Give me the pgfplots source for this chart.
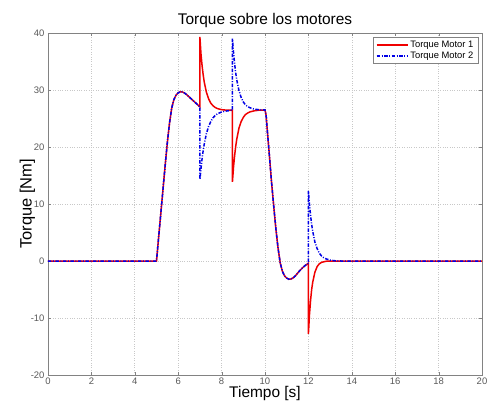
\documentclass[border=0pt]{standalone}
\usepackage{pgfplots}
\pgfplotsset{compat=1.18}
\usepackage{fontspec}
\setmainfont{Liberation Sans}
\definecolor{gridgray}{RGB}{200,200,200}
\definecolor{axgray}{RGB}{130,130,130}
\definecolor{mred}{RGB}{240,0,0}
\definecolor{mblue}{RGB}{0,0,230}
\begin{document}
\begin{tikzpicture}
\begin{axis}[
  scale only axis,
  width=434bp, height=342bp,
  xmin=0, xmax=20, ymin=-20, ymax=40,
  xtick={0,2,...,20}, ytick={-20,-10,...,40},
  grid=major,
  major grid style={gridgray, dotted, line width=0.6bp},
  axis line style={axgray, line width=0.6bp},
  tick style={axgray},
  tick align=inside,
  major tick length=3bp,
  /pgf/number format/assume math mode=true,
  tick label style={font=\fontsize{9.5}{10}\selectfont, text=black!65},
  xticklabel style={yshift=1bp},
  title={Torque sobre los motores},
  title style={font=\fontsize{15.5}{17}\selectfont, yshift=-4bp},
  xlabel={Tiempo [s]},
  xlabel style={font=\fontsize{15.5}{17}\selectfont, yshift=5bp},
  ylabel={Torque [Nm]},
  ylabel style={font=\fontsize{16.5}{18}\selectfont, yshift=-11bp},
  legend style={at={(axis description cs:0.991,0.988)}, anchor=north east,
    font=\fontsize{9.4}{10}\selectfont, draw=axgray, line width=0.5bp,
    inner xsep=2.5bp, inner ysep=1.5bp, row sep=-1bp, cells={anchor=west}},
  legend image code/.code={\draw[#1] (0bp,0bp) -- (31bp,0bp);},
]
\addplot[mred, line width=1.5bp] coordinates {
(0,0) (5,0) (5.1,4.2) (5.2,8.4) (5.3,12.6) (5.4,16.8) (5.5,20.8) (5.6,24.2) (5.7,26.8) (5.8,28.3) (5.9,29.1) (6.0,29.5) (6.1,29.7) (6.2,29.65) (6.3,29.45) (6.4,29.15) (6.5,28.8) (6.6,28.45) (6.7,28.1) (6.8,27.75) (6.9,27.4) (7.0,27.05)
(7.0,39.3) (7.05,36.3) (7.1,34.3) (7.15,32.7) (7.2,31.4) (7.3,29.6) (7.4,28.45) (7.5,27.7) (7.6,27.25) (7.7,26.95) (7.8,26.75) (8.0,26.55) (8.25,26.45) (8.5,26.45)
(8.5,13.9) (8.55,16.5) (8.6,18.5) (8.65,20.1) (8.7,21.4) (8.8,23.3) (8.9,24.45) (9.0,25.2) (9.1,25.7) (9.2,25.95) (9.3,26.15) (9.5,26.35) (9.7,26.45) (10.0,26.5)
(10.05,25.6) (10.1,23.2) (10.2,18.6) (10.3,13.9) (10.4,9.7) (10.5,5.7) (10.6,2.3) (10.7,-0.3) (10.8,-1.8) (10.9,-2.6) (11.0,-3.0) (11.1,-3.2) (11.2,-3.15) (11.3,-2.95) (11.4,-2.6) (11.5,-2.15) (11.6,-1.7) (11.7,-1.3) (11.8,-0.95) (11.9,-0.65) (12.0,-0.4)
(12.0,-12.8) (12.05,-9.4) (12.1,-6.9) (12.15,-5.0) (12.2,-3.7) (12.3,-1.95) (12.4,-1.0) (12.5,-0.5) (12.6,-0.25) (12.8,-0.05) (13.0,0) (20,0)
};
\addlegendentry{Torque Motor 1}
\addplot[mblue, line width=1.5bp, dash pattern=on 3.5bp off 1.5bp on 1bp off 1.5bp] coordinates {
(0,0) (5,0) (5.1,4.2) (5.2,8.4) (5.3,12.6) (5.4,16.8) (5.5,20.8) (5.6,24.2) (5.7,26.8) (5.8,28.3) (5.9,29.1) (6.0,29.5) (6.1,29.7) (6.2,29.65) (6.3,29.45) (6.4,29.15) (6.5,28.8) (6.6,28.45) (6.7,28.1) (6.8,27.75) (6.9,27.4) (7.0,27.05)
(7.0,14.3) (7.05,16.2) (7.1,17.95) (7.15,19.35) (7.2,20.5) (7.3,22.35) (7.4,23.6) (7.5,24.45) (7.6,25.1) (7.7,25.5) (7.8,25.8) (8.0,26.15) (8.2,26.3) (8.5,26.45)
(8.5,39.0) (8.55,36.55) (8.6,34.6) (8.65,33.0) (8.7,31.75) (8.8,29.9) (8.9,28.7) (9.0,27.9) (9.1,27.4) (9.2,27.1) (9.3,26.9) (9.5,26.65) (9.7,26.55) (10.0,26.5)
(10.05,25.6) (10.1,23.2) (10.2,18.6) (10.3,13.9) (10.4,9.7) (10.5,5.7) (10.6,2.3) (10.7,-0.3) (10.8,-1.8) (10.9,-2.6) (11.0,-3.0) (11.1,-3.2) (11.2,-3.15) (11.3,-2.95) (11.4,-2.6) (11.5,-2.15) (11.6,-1.7) (11.7,-1.3) (11.8,-0.95) (11.9,-0.65) (12.0,-0.4)
(12.0,12.3) (12.05,9.9) (12.1,8.0) (12.15,6.4) (12.2,5.2) (12.3,3.3) (12.4,2.2) (12.5,1.4) (12.6,0.9) (12.7,0.6) (12.8,0.4) (13.0,0.15) (13.2,0.05) (13.5,0) (20,0)
};
\addlegendentry{Torque Motor 2}
\end{axis}
\pgfresetboundingbox
\path (-48bp,-37bp) rectangle (443bp,375bp);
\end{tikzpicture}
\end{document}
